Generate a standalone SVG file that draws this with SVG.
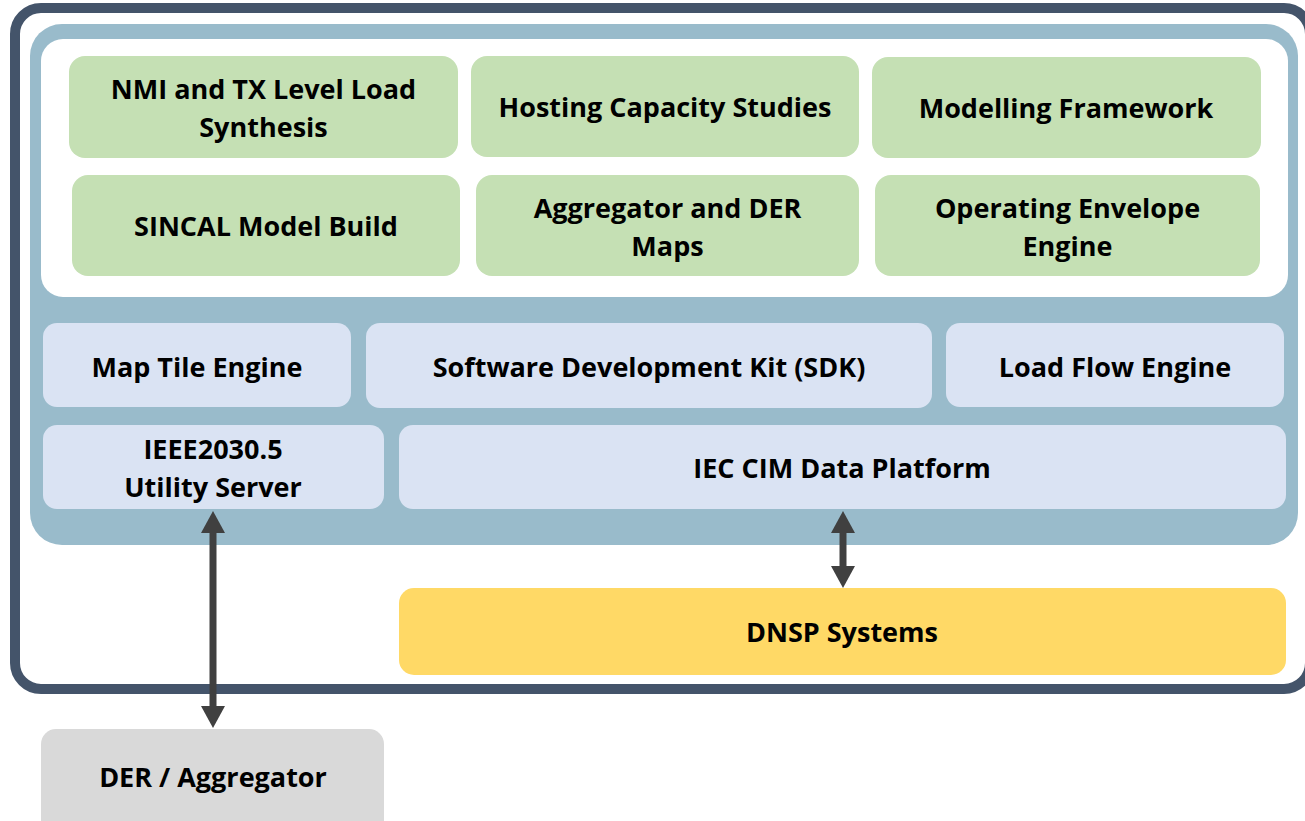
<svg xmlns="http://www.w3.org/2000/svg" width="1305" height="821" viewBox="0 0 1305 821">
  <defs>
    <style>
      .lbl { font-family: "Open Sans", Lato, "Liberation Sans", sans-serif; font-weight: 700; font-size: 27px; fill: #000; text-anchor: middle; }
      .app { fill: #C5E0B4; }
      .svc { fill: #DAE3F3; }
      .conn { stroke: #404040; stroke-width: 7; fill: none; marker-start: url(#head); marker-end: url(#head); }
    </style>
    <marker id="head" viewBox="0 0 22 24" markerWidth="22" markerHeight="24" refX="0" refY="12" markerUnits="userSpaceOnUse" orient="auto-start-reverse">
      <path d="M0,0 L22,12 L0,24 z" fill="#404040"/>
    </marker>
  </defs>

  <!-- platform boundary -->
  <rect x="15" y="8" width="1295" height="681" rx="26" fill="#FFFFFF" stroke="#44546A" stroke-width="10"/>
  <!-- core platform panel -->
  <rect x="30" y="24" width="1268" height="521" rx="32" fill="#99BBCB"/>
  <!-- applications panel -->
  <rect x="41" y="39" width="1247" height="258" rx="22" fill="#FFFFFF"/>

  <g id="nmi-load-synthesis">
    <rect class="app" x="69" y="56" width="389" height="102" rx="16"/>
    <text class="lbl" x="263.5" y="99">NMI and TX Level Load</text>
    <text class="lbl" x="263.5" y="137">Synthesis</text>
  </g>
  <g id="hosting-capacity">
    <rect class="app" x="471" y="56" width="388" height="101" rx="16"/>
    <text class="lbl" x="665" y="117">Hosting Capacity Studies</text>
  </g>
  <g id="modelling-framework">
    <rect class="app" x="872" y="57" width="389" height="101" rx="16"/>
    <text class="lbl" x="1066" y="118">Modelling Framework</text>
  </g>
  <g id="sincal-model-build">
    <rect class="app" x="72" y="175" width="388" height="101" rx="16"/>
    <text class="lbl" x="266" y="236">SINCAL Model Build</text>
  </g>
  <g id="aggregator-der-maps">
    <rect class="app" x="476" y="175" width="383" height="101" rx="16"/>
    <text class="lbl" x="667.5" y="218">Aggregator and DER</text>
    <text class="lbl" x="667.5" y="256">Maps</text>
  </g>
  <g id="operating-envelope">
    <rect class="app" x="875" y="175" width="385" height="101" rx="16"/>
    <text class="lbl" x="1067.5" y="218">Operating Envelope</text>
    <text class="lbl" x="1067.5" y="256">Engine</text>
  </g>

  <g id="map-tile-engine">
    <rect class="svc" x="43" y="323" width="308" height="84" rx="14"/>
    <text class="lbl" x="197" y="377">Map Tile Engine</text>
  </g>
  <g id="sdk">
    <rect class="svc" x="366" y="323" width="566" height="85" rx="14"/>
    <text class="lbl" x="649" y="377">Software Development Kit (SDK)</text>
  </g>
  <g id="load-flow-engine">
    <rect class="svc" x="946" y="323" width="338" height="84" rx="14"/>
    <text class="lbl" x="1115" y="377">Load Flow Engine</text>
  </g>
  <g id="ieee-utility-server">
    <rect class="svc" x="43" y="425" width="341" height="84" rx="14"/>
    <text class="lbl" x="213" y="459">IEEE2030.5</text>
    <text class="lbl" x="213" y="497">Utility Server</text>
  </g>
  <g id="iec-cim-platform">
    <rect class="svc" x="399" y="425" width="887" height="84" rx="14"/>
    <text class="lbl" x="842" y="478">IEC CIM Data Platform</text>
  </g>

  <g id="dnsp-systems">
    <rect x="399" y="588" width="887" height="87" rx="15" fill="#FFD966"/>
    <text class="lbl" x="842" y="642">DNSP Systems</text>
  </g>
  <g id="der-aggregator">
    <rect x="41" y="729" width="343" height="110" rx="15" fill="#D9D9D9"/>
    <text class="lbl" x="213" y="787">DER / Aggregator</text>
  </g>

  <g id="connectors">
    <line class="conn" x1="213" y1="533" x2="213" y2="706"/>
    <line class="conn" x1="843" y1="533" x2="843" y2="566"/>
  </g>
</svg>
